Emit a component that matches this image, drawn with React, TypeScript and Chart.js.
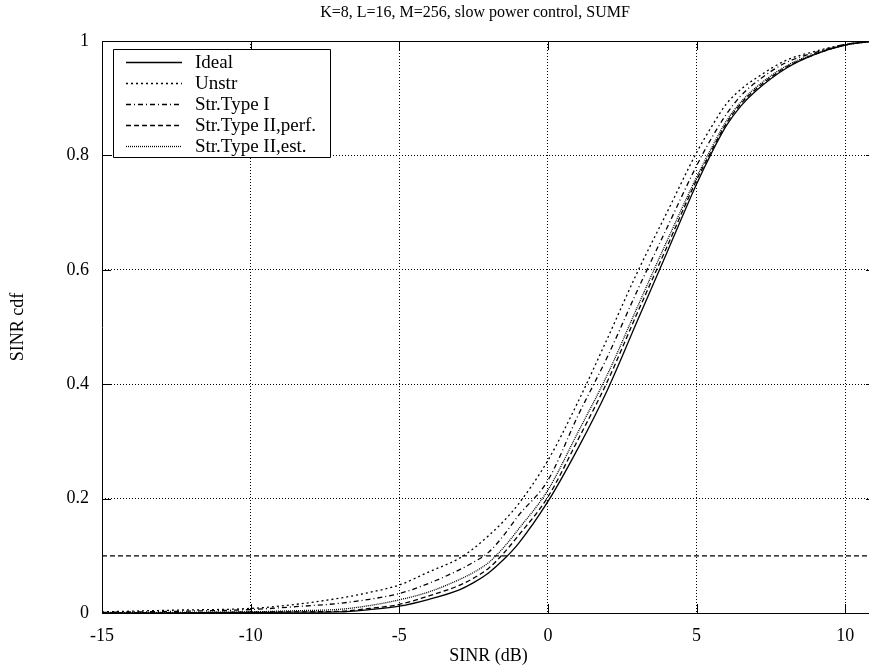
import React, { useEffect, useRef } from "react";
import { Chart, registerables } from "chart.js";

Chart.register(...registerables);

const titleText = "K=8, L=16, M=256, slow power control, SUMF";
const xLabel = "SINR (dB)";
const yLabel = "SINR cdf";

const sinrDb = [-15, -12.5, -10, -8.5, -7, -6, -5, -4, -3, -2.5, -2, -1.5, -1, 0, 1, 2, 3, 4, 5, 5.5, 6, 6.5, 7, 8, 9, 10, 11];

const idealCdf = [0, 0.0003, 0.001, 0.0015, 0.002, 0.006, 0.012, 0.024, 0.04, 0.053, 0.07, 0.093, 0.121, 0.195, 0.287, 0.39, 0.51, 0.63, 0.75, 0.804, 0.852, 0.887, 0.913, 0.952, 0.977, 0.993, 1.0];
const unstrCdf = [0.002, 0.005, 0.008, 0.015, 0.026, 0.036, 0.049, 0.072, 0.095, 0.113, 0.135, 0.16, 0.19, 0.267, 0.368, 0.48, 0.595, 0.7, 0.805, 0.85, 0.89, 0.916, 0.935, 0.966, 0.982, 0.994, 1.0];
const strType1Cdf = [0.001, 0.003, 0.006, 0.011, 0.017, 0.024, 0.034, 0.052, 0.075, 0.089, 0.106, 0.135, 0.17, 0.232, 0.344, 0.448, 0.563, 0.673, 0.782, 0.83, 0.872, 0.905, 0.928, 0.962, 0.98, 0.994, 1.0];
const strType2PerfCdf = [0, 0.0005, 0.0015, 0.002, 0.003, 0.008, 0.015, 0.03, 0.048, 0.061, 0.078, 0.104, 0.135, 0.203, 0.302, 0.405, 0.524, 0.64, 0.757, 0.808, 0.856, 0.891, 0.916, 0.954, 0.977, 0.993, 1.0];
const strType2EstCdf = [0.0005, 0.001, 0.002, 0.004, 0.0065, 0.013, 0.023, 0.037, 0.058, 0.071, 0.088, 0.114, 0.146, 0.215, 0.315, 0.417, 0.534, 0.65, 0.762, 0.813, 0.86, 0.894, 0.919, 0.956, 0.978, 0.993, 1.0];

const refLevelX = [-15, 11];
const refLevelY = [0.1, 0.1];

const seriesNames = ["Ideal", "Unstr", "Str.Type I", "Str.Type II,perf.", "Str.Type II,est."];
const seriesValues = [idealCdf, unstrCdf, strType1Cdf, strType2PerfCdf, strType2EstCdf];
const seriesDashes: number[][] = [[], [2, 3], [5, 3, 1, 3], [5, 3], [1, 1]];

const xTicks = [-15, -10, -5, 0, 5, 10];
const yTicks = [0, 0.2, 0.4, 0.6, 0.8, 1];

const FONT = "'Liberation Serif', 'Times New Roman', serif";

export default function App() {
  const ref = useRef<HTMLCanvasElement | null>(null);

  useEffect(() => {
    if (!ref.current) return;
    const datasets: any[] = seriesNames.map((name, i) => ({
      label: name,
      data: sinrDb.map((x, j) => ({ x, y: seriesValues[i][j] })),
      borderColor: "#000",
      borderWidth: 1.3,
      borderDash: seriesDashes[i],
      pointRadius: 0,
      fill: false,
      cubicInterpolationMode: "monotone",
    }));
    datasets.push({
      label: "_ref",
      data: refLevelX.map((x, j) => ({ x, y: refLevelY[j] })),
      borderColor: "#000",
      borderWidth: 1.3,
      borderDash: [5, 3],
      pointRadius: 0,
      fill: false,
    });

    const framePlugin = {
      id: "frame",
      afterDraw(chart: any) {
        const ctx = chart.ctx;
        const { left, right, top, bottom } = chart.chartArea;
        const xs = chart.scales.x;
        const ys = chart.scales.y;
        ctx.save();
        ctx.strokeStyle = "#000";
        ctx.lineWidth = 1;
        ctx.setLineDash([]);
        ctx.beginPath();
        ctx.rect(Math.round(left) + 0.5, Math.round(top) + 0.5, Math.round(right - left), Math.round(bottom - top));
        ctx.stroke();
        const tl = 9;
        ctx.beginPath();
        xTicks.forEach((v) => {
          const px = Math.round(xs.getPixelForValue(v)) + 0.5;
          ctx.moveTo(px, bottom);
          ctx.lineTo(px, bottom - tl);
          ctx.moveTo(px, top);
          ctx.lineTo(px, top + tl);
        });
        yTicks.forEach((v) => {
          const py = Math.round(ys.getPixelForValue(v)) + 0.5;
          ctx.moveTo(left, py);
          ctx.lineTo(left + tl, py);
          ctx.moveTo(right, py);
          ctx.lineTo(right - tl, py);
        });
        ctx.stroke();

        // title
        ctx.fillStyle = "#000";
        ctx.font = `16px ${FONT}`;
        ctx.textAlign = "center";
        ctx.textBaseline = "middle";
        ctx.fillText(titleText, 475, 13);

        // legend
        const bx = 113, by = 49, bw = 217, bh = 108;
        ctx.fillStyle = "#fff";
        ctx.fillRect(bx, by, bw, bh);
        ctx.beginPath();
        ctx.rect(bx + 0.5, by + 0.5, bw, bh);
        ctx.stroke();
        ctx.font = `19px ${FONT}`;
        ctx.textAlign = "left";
        ctx.textBaseline = "middle";
        seriesNames.forEach((name, i) => {
          const yRow = by + 13 + i * 21;
          ctx.beginPath();
          ctx.lineWidth = 1.3;
          ctx.setLineDash(seriesDashes[i]);
          ctx.moveTo(126, Math.round(yRow) + 0.5);
          ctx.lineTo(182, Math.round(yRow) + 0.5);
          ctx.stroke();
          ctx.setLineDash([]);
          ctx.fillStyle = "#000";
          ctx.fillText(name, 195, yRow + 1);
        });
        ctx.restore();
      },
    };

    const chart = new Chart(ref.current, {
      type: "line",
      data: { datasets },
      options: {
        animation: false,
        responsive: false,
        maintainAspectRatio: false,
        layout: { padding: { top: 41, right: 10, left: 0, bottom: 0 } },
        plugins: {
          legend: { display: false },
          tooltip: { enabled: false },
          title: { display: false },
        },
        scales: {
          x: {
            type: "linear",
            min: -15,
            max: 11,
            afterFit: (s: any) => {
              s.height = 58;
            },
            afterBuildTicks: (s: any) => {
              s.ticks = xTicks.map((v) => ({ value: v }));
            },
            ticks: {
              color: "#000",
              font: { family: FONT, size: 18 },
              padding: 12,
              maxRotation: 0,
              autoSkip: false,
              callback: (v: any) => String(Number(v)),
            },
            grid: { color: "#000", lineWidth: 1, drawTicks: false },
            border: { display: false, dash: [1, 2] },
            title: {
              display: true,
              text: xLabel,
              color: "#000",
              font: { family: FONT, size: 18 },
              padding: { top: 0, bottom: 4 },
            },
          },
          y: {
            type: "linear",
            min: 0,
            max: 1,
            afterFit: (s: any) => {
              s.width = 102;
            },
            afterBuildTicks: (s: any) => {
              s.ticks = yTicks.map((v) => ({ value: v }));
            },
            ticks: {
              color: "#000",
              font: { family: FONT, size: 18 },
              padding: 13,
              autoSkip: false,
              callback: (v: any) => String(Number(v)),
            },
            grid: { color: "#000", lineWidth: 1, drawTicks: false },
            border: { display: false, dash: [1, 2] },
            title: {
              display: true,
              text: yLabel,
              color: "#000",
              font: { family: FONT, size: 18 },
              padding: { top: 7, bottom: 0 },
            },
          },
        },
      },
      plugins: [framePlugin],
    });
    return () => chart.destroy();
  }, []);

  return (
    <div style={{ position: "absolute", left: 0, top: 0, width: 869, height: 671, overflow: "hidden", background: "#fff" }}>
      <canvas ref={ref} width={885} height={671} style={{ width: 885, height: 671, display: "block" }} />
    </div>
  );
}
